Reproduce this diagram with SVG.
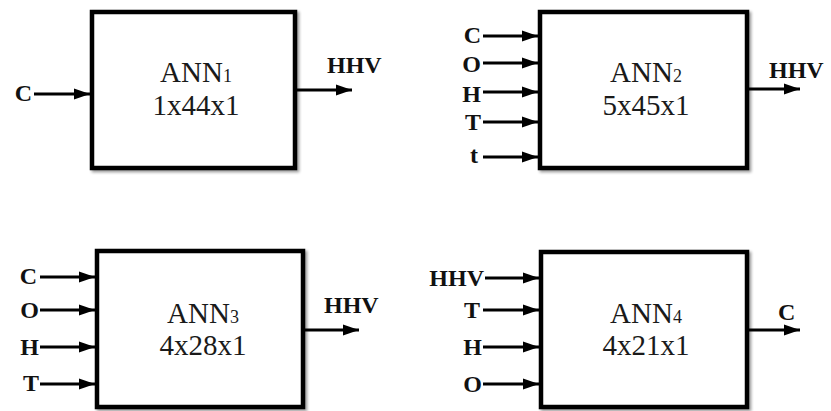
<svg xmlns="http://www.w3.org/2000/svg" width="831" height="411" viewBox="0 0 831 411">
<defs>
<marker id="ah" markerUnits="userSpaceOnUse" markerWidth="16" markerHeight="12" refX="16" refY="6" orient="auto">
<path d="M0,0.5 L16,6 L0,11.5 z" fill="#000"/>
</marker>
<filter id="sh" x="-10%" y="-10%" width="120%" height="120%">
<feGaussianBlur in="SourceAlpha" stdDeviation="1.5"/>
<feOffset dx="1.5" dy="1.5" result="b"/>
<feComponentTransfer><feFuncA type="linear" slope="0.4"/></feComponentTransfer>
<feMerge><feMergeNode/><feMergeNode in="SourceGraphic"/></feMerge>
</filter>
<style>
.box{fill:#fff;stroke:#000;stroke-width:4.5;filter:url(#sh)}
.t{font-family:"Liberation Serif","DejaVu Serif",serif;font-size:29px;fill:#1a1a1a;text-anchor:middle}
.s{font-size:18px}
.l{font-family:"Liberation Serif","DejaVu Serif",serif;font-size:24px;font-weight:bold;fill:#111}
.r{text-anchor:end}
.c line{stroke:#000;stroke-width:3.2;marker-end:url(#ah)}
</style>
</defs>
<g id="ann1">
<rect class="box" x="92" y="12" width="203" height="156"/>
<text class="t" x="196" y="82">ANN<tspan class="s">1</tspan></text>
<text class="t" x="196" y="115">1x44x1</text>
<text class="l r" x="32" y="101">C</text>
<text class="l" x="327" y="73">HHV</text>
</g>
<g id="ann2">
<rect class="box" x="540" y="12" width="207" height="156"/>
<text class="t" x="646" y="82">ANN<tspan class="s">2</tspan></text>
<text class="t" x="646" y="115">5x45x1</text>
<text class="l r" x="481" y="43">C</text>
<text class="l r" x="481" y="72">O</text>
<text class="l r" x="481" y="102">H</text>
<text class="l r" x="481" y="130">T</text>
<text class="l r" x="478" y="163">t</text>
<text class="l" x="769" y="78">HHV</text>
</g>
<g id="ann3">
<rect class="box" x="97" y="251" width="206" height="156"/>
<text class="t" x="203" y="323">ANN<tspan class="s">3</tspan></text>
<text class="t" x="203" y="355">4x28x1</text>
<text class="l r" x="37" y="284">C</text>
<text class="l r" x="39" y="318">O</text>
<text class="l r" x="39" y="355">H</text>
<text class="l r" x="39" y="391">T</text>
<text class="l" x="324" y="313">HHV</text>
</g>
<g id="ann4">
<rect class="box" x="541" y="252" width="206" height="155"/>
<text class="t" x="646" y="323">ANN<tspan class="s">4</tspan></text>
<text class="t" x="646" y="355">4x21x1</text>
<text class="l r" x="484" y="286">HHV</text>
<text class="l r" x="480" y="318">T</text>
<text class="l r" x="482" y="355">H</text>
<text class="l r" x="482" y="392">O</text>
<text class="l" x="778" y="320">C</text>
</g>
<g id="connectors" class="c">
<line x1="34" y1="94" x2="90" y2="94"/>
<line x1="297" y1="90" x2="352" y2="90"/>
<line x1="483" y1="36" x2="538" y2="36"/>
<line x1="483" y1="63" x2="538" y2="63"/>
<line x1="483" y1="92" x2="538" y2="92"/>
<line x1="483" y1="122" x2="538" y2="122"/>
<line x1="483" y1="157" x2="538" y2="157"/>
<line x1="749" y1="89" x2="800" y2="89"/>
<line x1="40" y1="277" x2="95" y2="277"/>
<line x1="40" y1="310" x2="95" y2="310"/>
<line x1="40" y1="347" x2="95" y2="347"/>
<line x1="40" y1="384" x2="95" y2="384"/>
<line x1="305" y1="330" x2="359" y2="330"/>
<line x1="485" y1="278" x2="539" y2="278"/>
<line x1="483" y1="310" x2="539" y2="310"/>
<line x1="483" y1="347" x2="539" y2="347"/>
<line x1="483" y1="384" x2="539" y2="384"/>
<line x1="749" y1="330" x2="800" y2="330"/>
</g>
</svg>
